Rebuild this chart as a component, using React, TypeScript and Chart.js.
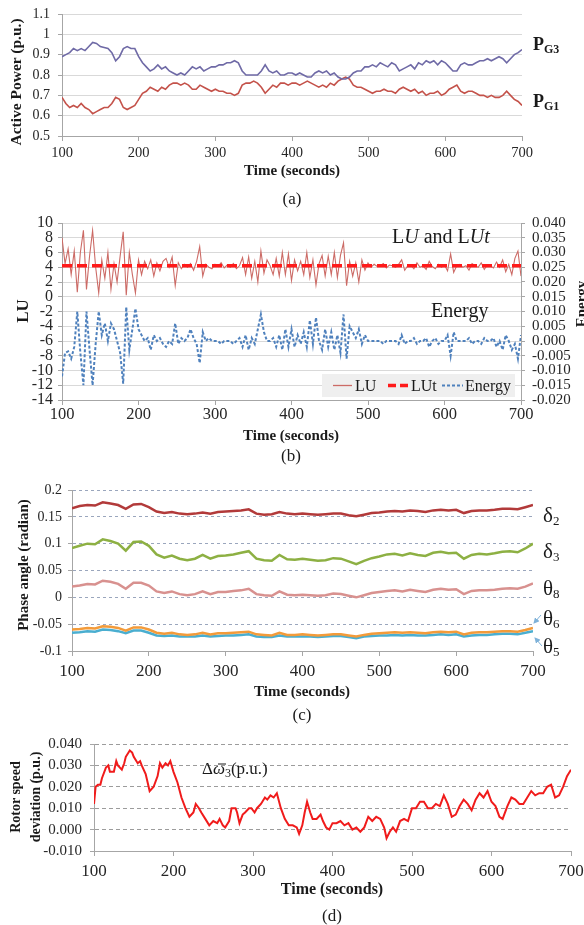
import React, { useEffect, useRef } from 'react';
import { Chart, registerables } from 'chart.js';
Chart.register(...registerables);

const FONT = '"Liberation Serif", "Times New Roman", serif';
const AXIS = '#a6a6a6';
const TICK = '#262626';

// ---------- Panel (a): active power, t = 100..700 step 5 ----------
const A_T0 = 100;
const A_DT = 5;
const PG3 = [0.89,0.90,0.91,0.93,0.92,0.93,0.92,0.94,0.96,0.955,0.94,0.935,0.93,0.91,0.87,0.89,0.93,0.94,0.93,0.93,
  0.89,0.86,0.84,0.82,0.83,0.85,0.83,0.84,0.82,0.81,
  0.80,0.81,0.80,0.82,0.84,0.83,0.84,0.82,0.83,0.84,
  0.84,0.85,0.85,0.86,0.86,0.87,0.86,0.82,0.80,0.80,
  0.80,0.80,0.82,0.85,0.82,0.81,0.82,0.80,0.80,0.81,
  0.81,0.80,0.81,0.80,0.79,0.79,0.81,0.82,0.81,0.82,
  0.80,0.81,0.79,0.78,0.78,0.79,0.81,0.82,0.82,0.84,
  0.84,0.85,0.84,0.86,0.85,0.84,0.86,0.85,0.82,0.83,
  0.84,0.85,0.83,0.86,0.85,0.87,0.86,0.87,0.85,0.87,
  0.86,0.84,0.82,0.82,0.85,0.86,0.85,0.85,0.86,0.87,
  0.87,0.88,0.87,0.88,0.89,0.88,0.86,0.88,0.90,0.91,
  0.925];
const PG1 = [0.69,0.66,0.64,0.65,0.64,0.66,0.64,0.63,0.61,0.62,0.63,0.64,0.64,0.66,0.69,0.68,0.64,0.63,0.64,0.65,
  0.68,0.71,0.72,0.74,0.73,0.72,0.74,0.73,0.75,0.76,
  0.76,0.75,0.76,0.75,0.73,0.73,0.75,0.74,0.73,0.72,
  0.73,0.72,0.72,0.71,0.71,0.70,0.71,0.75,0.76,0.76,
  0.77,0.76,0.74,0.71,0.73,0.75,0.74,0.76,0.76,0.75,
  0.76,0.76,0.75,0.76,0.77,0.76,0.75,0.74,0.75,0.74,
  0.76,0.75,0.77,0.78,0.79,0.78,0.75,0.74,0.74,0.73,
  0.72,0.71,0.72,0.72,0.73,0.72,0.72,0.71,0.73,0.74,
  0.73,0.72,0.73,0.71,0.72,0.70,0.71,0.71,0.72,0.70,
  0.71,0.73,0.74,0.75,0.72,0.71,0.72,0.72,0.71,0.70,
  0.70,0.69,0.70,0.69,0.69,0.70,0.72,0.70,0.68,0.67,
  0.65];

// ---------- Panel (b): LU / LUt / Energy, t = 100..700 step 4 ----------
const B_T0 = 100;
const B_DT = 4;
const LU = [8.0,4.5,6.5,3.0,6.2,0.6,6.0,9.0,1.0,5.5,
  9.0,4.0,0.5,5.0,2.5,6.0,1.0,4.5,2.0,5.5,
  8.8,0.2,6.0,3.0,0.5,5.0,3.0,4.8,3.8,5.0,
  2.8,4.6,3.5,4.8,5.2,4.0,5.4,1.5,4.6,3.8,
  4.4,4.0,4.5,3.6,4.8,6.8,2.8,4.4,4.0,3.8,
  4.4,4.1,4.6,3.9,4.3,4.0,4.5,3.8,4.2,5.3,
  3.0,5.4,2.5,4.8,2.0,6.2,3.2,5.0,4.2,3.0,
  5.2,2.8,6.0,3.0,5.8,2.2,5.0,3.5,4.8,3.0,
  6.0,2.6,5.0,1.6,4.5,5.6,2.8,5.5,3.0,6.0,
  2.6,5.6,7.3,1.5,4.8,2.8,4.6,2.0,5.0,3.6,
  4.6,4.0,4.4,4.1,4.2,4.5,3.9,4.3,4.2,4.0,
  4.4,5.0,3.6,4.2,4.3,3.8,4.6,4.0,4.2,3.7,
  4.8,4.1,3.8,4.4,4.0,4.3,3.5,5.8,3.3,4.2,
  4.4,4.0,4.2,3.6,4.5,4.2,4.0,4.6,3.7,4.3,
  4.2,3.9,4.7,4.0,5.0,3.4,4.4,3.0,5.2,6.2,
  2.8];
const LUT_T = [100, 700];
const LUT = [4.2, 4.2];
const ENERGY = [-0.012,-0.004,-0.0035,-0.006,-0.002,0.010,-0.004,-0.015,0.010,-0.003,
  -0.015,-0.001,0.010,0.002,0.006,0.000,0.006,0.004,0.000,-0.004,
  -0.0145,0.0115,-0.003,0.004,0.011,0.004,0.002,0.000,0.001,-0.003,
  0.002,0.000,0.001,-0.001,-0.002,0.000,-0.001,0.006,-0.001,0.001,
  0.000,0.001,0.004,0.001,-0.001,-0.0075,0.003,0.000,0.001,0.000,
  0.000,0.000,-0.001,0.000,0.000,0.000,-0.001,0.000,0.001,-0.002,
  0.002,-0.003,0.001,-0.001,0.004,0.009,0.003,0.000,0.000,0.001,
  -0.002,0.002,-0.003,0.004,-0.002,0.004,-0.002,0.002,-0.001,0.003,
  -0.002,0.007,-0.001,0.008,0.000,-0.003,0.004,-0.002,0.003,-0.003,
  0.002,-0.004,0.009,-0.006,0.005,0.003,0.001,0.004,-0.001,0.002,
  0.000,0.000,0.000,0.000,0.000,-0.001,0.000,0.000,0.000,0.000,
  -0.001,0.002,-0.001,0.000,0.000,0.001,-0.001,0.000,0.000,0.001,
  -0.002,0.000,0.001,-0.001,0.000,0.000,0.002,-0.005,0.003,0.000,
  0.000,0.000,0.000,0.001,-0.001,0.000,0.000,-0.001,0.001,0.000,
  0.000,0.001,-0.002,0.000,-0.003,0.002,0.000,-0.003,-0.001,-0.006,
  0.002];

// ---------- Panel (c): phase angles, t = 100..700 step 10 ----------
const C_T0 = 100;
const C_DT = 10;
const DELTA2 = [0.166,0.170,0.172,0.171,0.177,0.175,0.172,0.165,0.173,0.174,
  0.168,0.160,0.157,0.159,0.156,0.155,0.156,0.158,0.156,0.159,
  0.160,0.161,0.162,0.164,0.156,0.154,0.155,0.159,0.156,0.155,
  0.156,0.155,0.154,0.155,0.156,0.156,0.153,0.151,0.154,0.157,
  0.158,0.160,0.161,0.160,0.162,0.161,0.159,0.162,0.163,0.162,
  0.163,0.157,0.161,0.162,0.162,0.163,0.165,0.165,0.164,0.168,
  0.172];
const DELTA3 = [0.092,0.096,0.100,0.099,0.108,0.105,0.100,0.087,0.103,0.104,
  0.096,0.080,0.074,0.078,0.072,0.069,0.072,0.079,0.072,0.077,
  0.078,0.080,0.083,0.086,0.072,0.069,0.068,0.079,0.071,0.070,
  0.072,0.070,0.068,0.069,0.073,0.072,0.067,0.062,0.068,0.073,
  0.076,0.080,0.081,0.078,0.082,0.079,0.077,0.083,0.085,0.082,
  0.083,0.072,0.079,0.081,0.080,0.082,0.085,0.086,0.084,0.091,
  0.100];
const THETA8 = [0.020,0.022,0.025,0.024,0.031,0.029,0.025,0.016,0.027,0.027,
  0.022,0.011,0.008,0.011,0.006,0.004,0.006,0.011,0.006,0.010,
  0.010,0.012,0.013,0.016,0.006,0.004,0.003,0.011,0.005,0.004,
  0.005,0.004,0.003,0.004,0.007,0.006,0.003,0.000,0.004,0.008,
  0.010,0.012,0.013,0.011,0.014,0.012,0.010,0.014,0.016,0.014,
  0.015,0.006,0.012,0.013,0.013,0.014,0.016,0.017,0.016,0.020,
  0.026];
const THETA6 = [-0.060,-0.059,-0.057,-0.058,-0.054,-0.055,-0.057,-0.062,-0.056,-0.056,
  -0.060,-0.066,-0.068,-0.066,-0.069,-0.070,-0.069,-0.066,-0.069,-0.067,
  -0.067,-0.066,-0.065,-0.064,-0.069,-0.070,-0.071,-0.066,-0.070,-0.070,
  -0.069,-0.070,-0.071,-0.070,-0.069,-0.069,-0.071,-0.073,-0.070,-0.068,
  -0.067,-0.066,-0.065,-0.066,-0.065,-0.066,-0.067,-0.065,-0.064,-0.065,
  -0.064,-0.069,-0.066,-0.065,-0.065,-0.064,-0.063,-0.063,-0.064,-0.061,
  -0.057];
const THETA5 = [-0.066,-0.065,-0.063,-0.064,-0.060,-0.061,-0.063,-0.067,-0.062,-0.062,
  -0.066,-0.071,-0.072,-0.071,-0.073,-0.073,-0.073,-0.071,-0.073,-0.072,
  -0.071,-0.071,-0.070,-0.069,-0.073,-0.074,-0.074,-0.071,-0.073,-0.073,
  -0.073,-0.073,-0.074,-0.073,-0.072,-0.072,-0.074,-0.076,-0.073,-0.072,
  -0.071,-0.071,-0.070,-0.071,-0.070,-0.071,-0.071,-0.070,-0.069,-0.070,
  -0.069,-0.073,-0.071,-0.070,-0.070,-0.069,-0.068,-0.068,-0.069,-0.066,
  -0.063];

// ---------- Panel (d): rotor speed deviation ----------
const D_T = [100,102,105,108,110,115,118,120,125,128,130,135,138,140,145,148,150,155,158,160,
  165,170,175,180,183,186,190,193,196,200,205,210,215,220,225,228,232,235,240,245,
  250,255,258,262,265,270,273,278,280,283,287,290,295,298,302,305,310,315,318,322,
  326,330,335,340,345,350,355,358,362,365,368,372,375,380,385,388,392,396,400,405,
  410,415,420,425,430,435,440,445,450,455,460,465,468,472,476,480,485,490,495,500,
  505,510,515,520,525,530,535,540,545,550,555,560,565,570,575,580,585,590,595,600,
  605,610,614,620,625,630,635,640,645,650,655,660,665,670,675,680,685,690,695,700];
const D_V = [0.012,0.020,0.021,0.021,0.024,0.029,0.030,0.027,0.027,0.032,0.030,0.028,0.031,0.034,0.037,0.036,0.034,0.031,0.032,0.030,
  0.026,0.018,0.020,0.025,0.031,0.029,0.031,0.030,0.032,0.027,0.022,0.015,0.010,0.006,0.008,0.012,0.010,0.008,0.005,0.002,
  0.004,0.003,0.005,0.002,0.001,0.004,0.010,0.010,0.008,0.003,0.007,0.008,0.010,0.010,0.008,0.010,0.012,0.015,0.014,0.016,
  0.015,0.017,0.010,0.005,0.002,0.002,0.001,-0.002,0.002,0.008,0.013,0.008,0.005,0.005,0.007,0.004,0.001,0.000,0.003,0.003,
  0.004,0.002,0.003,0.000,0.001,-0.001,0.001,0.006,0.004,0.006,0.005,0.001,-0.004,-0.001,0.001,-0.001,0.004,0.005,0.004,0.010,
  0.010,0.013,0.013,0.010,0.010,0.012,0.011,0.016,0.012,0.006,0.007,0.011,0.014,0.012,0.009,0.014,0.017,0.015,0.018,0.013,
  0.011,0.006,0.005,0.011,0.015,0.014,0.012,0.012,0.015,0.018,0.016,0.017,0.017,0.020,0.021,0.015,0.016,0.020,0.025,0.028];

const uniform = (t0: number, dt: number, vs: number[]) => vs.map((v, i) => ({ x: t0 + i * dt, y: v }));
const paired = (ts: number[], vs: number[]) => vs.map((v, i) => ({ x: ts[i], y: v }));

const fixW = (w: number) => (s: any) => { s.width = w; s.paddingTop = 0; s.paddingBottom = 0; s.paddingLeft = 0; s.paddingRight = 0; };
const fixH = (h: number) => (s: any) => { s.height = h; s.paddingTop = 0; s.paddingBottom = 0; s.paddingLeft = 0; s.paddingRight = 0; };

const xAxis = (h: number, size: number, pad: number) => ({
  type: 'linear', position: 'bottom', min: 100, max: 700,
  afterFit: fixH(h),
  grid: { drawOnChartArea: false, drawTicks: true, tickLength: 5, color: AXIS },
  border: { color: AXIS, width: 1 },
  ticks: { stepSize: 100, autoSkip: false, maxRotation: 0, padding: pad, color: TICK, font: { size, family: FONT }, callback: (v: any) => String(v) },
});

const yAxis = (opts: any) => ({
  type: 'linear', position: opts.position || 'left', min: opts.min, max: opts.max,
  afterFit: fixW(opts.w),
  grid: {
    drawOnChartArea: opts.gridOn !== false, drawTicks: true, tickLength: 4,
    color: opts.gridColor || '#d9d9d9', tickColor: AXIS,
  },
  border: { color: AXIS, width: 1, dash: opts.dash || [] },
  ticks: { stepSize: opts.step, autoSkip: false, padding: opts.pad, color: TICK, font: { size: opts.size, family: FONT }, callback: opts.fmt },
});

const baseOpts = (padding: any, scales: any) => ({
  responsive: false, maintainAspectRatio: false, animation: false,
  layout: { padding },
  plugins: { legend: { display: false }, tooltip: { enabled: false }, title: { display: false } },
  elements: { point: { radius: 0 }, line: { tension: 0 } },
  scales,
});

const ln = (label: string, data: any[], color: string, width: number, extra: any = {}) => ({
  label, data, borderColor: color, backgroundColor: color, borderWidth: width, pointRadius: 0, fill: false, ...extra,
});

const cfgA = (): any => ({
  type: 'line',
  data: { datasets: [
    ln('PG3', uniform(A_T0, A_DT, PG3), '#6f6aa6', 1.6),
    ln('PG1', uniform(A_T0, A_DT, PG1), '#c4524a', 1.6),
  ] },
  options: baseOpts({ top: 14, right: 62, left: 0, bottom: 0 }, {
    x: xAxis(190 - 136, 14.5, 3),
    y: yAxis({ min: 0.5, max: 1.1, step: 0.1, w: 62, pad: 8, size: 14, fmt: (v: any) => String(Math.round(v * 10) / 10) }),
  }),
});

const fmt3 = (v: any) => { const n = Math.round(Number(v) * 1000) / 1000; return (n === 0 ? 0 : n).toFixed(3); };

const cfgB = (): any => ({
  type: 'line',
  data: { datasets: [
    ln('LUt', paired(LUT_T, LUT), '#ff1a1a', 3.5, { borderDash: [10, 5], yAxisID: 'y' }),
    ln('LU', uniform(B_T0, B_DT, LU), '#cc6b66', 1.1, { yAxisID: 'y' }),
    ln('Energy', uniform(B_T0, B_DT, ENERGY), '#4f81bd', 2, { borderDash: [3, 2], yAxisID: 'y1' }),
  ] },
  options: baseOpts({ top: 23, right: 0, left: 0, bottom: 0 }, {
    x: xAxis(245 - 177 - 23, 16.5, 0),
    y: yAxis({ min: -14, max: 10, step: 2, w: 62, pad: 5, size: 16, fmt: (v: any) => String(Math.round(v)) }),
    y1: yAxis({ position: 'right', min: -0.02, max: 0.04, step: 0.005, w: 63, pad: 7, size: 15, gridOn: false, fmt: fmt3 }),
  }),
});

const cfgC = (): any => ({
  type: 'line',
  data: { datasets: [
    ln('δ2', uniform(C_T0, C_DT, DELTA2), '#b23a3a', 2.5),
    ln('δ3', uniform(C_T0, C_DT, DELTA3), '#8db043', 2.5),
    ln('θ8', uniform(C_T0, C_DT, THETA8), '#d8918f', 2.5),
    ln('θ6', uniform(C_T0, C_DT, THETA6), '#f39b3a', 2.5),
    ln('θ5', uniform(C_T0, C_DT, THETA5), '#4aaed0', 2.5),
  ] },
  options: baseOpts({ top: 20, right: 51, left: 0, bottom: 0 }, {
    x: xAxis(215 - 20 - 161, 17, 5),
    y: yAxis({ min: -0.1, max: 0.2, step: 0.05, w: 72, pad: 6, size: 14, gridColor: '#9aa6bd', dash: [3, 3], fmt: (v: any) => { const n = Math.round(v * 100) / 100; return String(n === 0 ? 0 : n); } }),
  }),
});

const cfgD = (): any => ({
  type: 'line',
  data: { datasets: [
    ln('Δω3', paired(D_T, D_V), '#f01b1b', 2),
  ] },
  options: baseOpts({ top: 14, right: 13, left: 0, bottom: 0 }, {
    x: xAxis(165 - 14 - 107, 17, 5),
    y: yAxis({ min: -0.01, max: 0.04, step: 0.01, w: 94, pad: 8, size: 15, gridColor: '#9c9c9c', dash: [4, 3], fmt: fmt3 }),
  }),
});

const T = (p: any) => (
  <text
    x={p.x} y={p.y}
    transform={p.rot ? `rotate(${p.rot} ${p.x} ${p.y})` : undefined}
    textAnchor={p.anchor || 'middle'}
    dominantBaseline={p.base || 'central'}
    fontFamily={FONT} fontSize={p.size} fontWeight={p.bold ? 'bold' : 'normal'}
    fill={p.color || '#1a1a1a'}
  >{p.children}</text>
);

export default function App() {
  const ra = useRef<HTMLCanvasElement>(null);
  const rb = useRef<HTMLCanvasElement>(null);
  const rc = useRef<HTMLCanvasElement>(null);
  const rd = useRef<HTMLCanvasElement>(null);

  useEffect(() => {
    Chart.defaults.font.family = FONT;
    const charts = [
      new Chart(ra.current!, cfgA()),
      new Chart(rb.current!, cfgB()),
      new Chart(rc.current!, cfgC()),
      new Chart(rd.current!, cfgD()),
    ];
    return () => charts.forEach((c) => c.destroy());
  }, []);

  const abs = (top: number): React.CSSProperties => ({ position: 'absolute', left: 0, top });

  return (
    <div style={{ position: 'absolute', left: 0, top: 0, width: 584, height: 925, background: '#fff', overflow: 'hidden' }}>
      <canvas ref={ra} width={584} height={190} style={abs(0)} />
      <canvas ref={rb} width={584} height={245} style={abs(200)} />
      <canvas ref={rc} width={584} height={215} style={abs(470)} />
      <canvas ref={rd} width={584} height={165} style={abs(730)} />
      <svg width={584} height={925} style={{ position: 'absolute', left: 0, top: 0 }}>
        <defs>
          <marker id="ah" markerWidth="6" markerHeight="6" refX="5" refY="3" orient="auto" markerUnits="userSpaceOnUse">
            <path d="M0,0 L6,3 L0,6 z" fill="#7fb2d9" />
          </marker>
        </defs>

        {/* Panel (a) */}
        <T x={15} y={82} rot={-90} size={15.5} bold>Active Power (p.u.)</T>
        <T x={292} y={170} size={15} bold>Time (seconds)</T>
        <T x={292} y={198} size={17}>(a)</T>
        <text x={533} y={50} fontFamily={FONT} fontSize={18} fontWeight="bold" fill="#1a1a1a">P<tspan fontSize={12} dy={3}>G3</tspan></text>
        <text x={533} y={107} fontFamily={FONT} fontSize={18} fontWeight="bold" fill="#1a1a1a">P<tspan fontSize={12} dy={3}>G1</tspan></text>

        {/* Panel (b) */}
        <T x={22} y={311} rot={-90} size={17} bold>LU</T>
        <T x={581} y={304} rot={-90} size={15} bold>Energy</T>
        <text x={392} y={243} fontFamily={FONT} fontSize={20} fill="#1a1a1a">L<tspan fontStyle="italic">U</tspan> and L<tspan fontStyle="italic">Ut</tspan></text>
        <text x={431} y={317} fontFamily={FONT} fontSize={20} fill="#1a1a1a">Energy</text>
        <rect x={322} y={374} width={193} height={23} fill="#efefef" />
        <line x1={333} y1={385.5} x2={352} y2={385.5} stroke="#cc6b66" strokeWidth={1.3} />
        <text x={355} y={391} fontFamily={FONT} fontSize={16} fill="#1a1a1a">LU</text>
        <line x1={388} y1={385.5} x2={410} y2={385.5} stroke="#ff1a1a" strokeWidth={3.5} strokeDasharray="8 4" />
        <text x={411} y={391} fontFamily={FONT} fontSize={16} fill="#1a1a1a">LUt</text>
        <line x1={442} y1={385.5} x2={463} y2={385.5} stroke="#4f81bd" strokeWidth={2} strokeDasharray="3 2" />
        <text x={465} y={391} fontFamily={FONT} fontSize={16} fill="#1a1a1a">Energy</text>
        <T x={291} y={435} size={15} bold>Time (seconds)</T>
        <T x={291} y={455} size={17}>(b)</T>

        {/* Panel (c) */}
        <T x={23} y={565} rot={-90} size={15} bold>Phase angle (radian)</T>
        <text x={543} y={522} fontFamily={FONT} fontSize={21} fill="#1a1a1a">δ<tspan fontSize={13} dy={3}>2</tspan></text>
        <text x={543} y={558} fontFamily={FONT} fontSize={21} fill="#1a1a1a">δ<tspan fontSize={13} dy={3}>3</tspan></text>
        <text x={543} y={595} fontFamily={FONT} fontSize={21} fill="#1a1a1a">θ<tspan fontSize={13} dy={3}>8</tspan></text>
        <text x={543} y={625} fontFamily={FONT} fontSize={21} fill="#1a1a1a">θ<tspan fontSize={13} dy={3}>6</tspan></text>
        <text x={543} y={653} fontFamily={FONT} fontSize={21} fill="#1a1a1a">θ<tspan fontSize={13} dy={3}>5</tspan></text>
        <line x1={541} y1={615} x2={534} y2={623} stroke="#7fb2d9" strokeWidth={1} markerEnd="url(#ah)" />
        <line x1={542} y1={646} x2={535} y2={638} stroke="#7fb2d9" strokeWidth={1} markerEnd="url(#ah)" />
        <T x={302} y={691} size={15} bold>Time (seconds)</T>
        <T x={302} y={714} size={17}>(c)</T>

        {/* Panel (d) */}
        <T x={15} y={797} rot={-90} size={14} bold>Rotor speed</T>
        <T x={35} y={797} rot={-90} size={14} bold>deviation (p.u.)</T>
        <text x={202} y={774} fontFamily={FONT} fontSize={17} fill="#1a1a1a">Δ<tspan fontStyle="italic">ω</tspan><tspan fontSize={12} dy={3}>3</tspan><tspan dy={-3}>(p.u.)</tspan></text>
        <line x1={218} y1={764} x2={226} y2={764} stroke="#1a1a1a" strokeWidth={1} />
        <T x={332} y={888} size={16} bold>Time (seconds)</T>
        <T x={332} y={915} size={17}>(d)</T>
      </svg>
    </div>
  );
}
